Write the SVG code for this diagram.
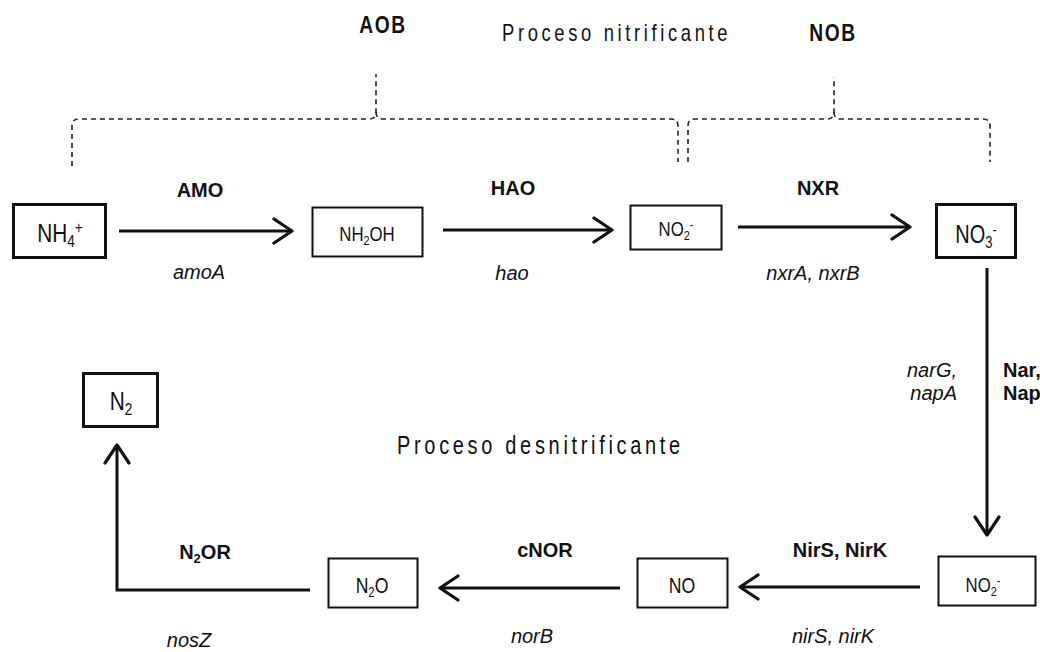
<svg xmlns="http://www.w3.org/2000/svg" width="1040" height="652" viewBox="0 0 1040 652">
<style>
  text { font-family: "Liberation Sans", Arial, sans-serif; fill: #111; }
  .box { fill: #fff; stroke: #111; stroke-width: 2; }
  .thick { stroke-width: 3; }
  .nt { font-size: 23px; text-anchor: middle; }
  .enz { font-size: 20px; font-weight: bold; text-anchor: middle; }
  .gene { font-size: 20px; font-style: italic; text-anchor: middle; }
  .title { font-size: 23px; }
  .title2 { font-size: 25px; }
  .grp { font-size: 24px; font-weight: bold; text-anchor: middle; letter-spacing: 2px; }
  .arrow { fill: none; stroke: #111; stroke-width: 3; marker-end: url(#head); }
  .brace { fill: none; stroke: #222; stroke-width: 1.6; stroke-dasharray: 5 4; }
  .sub { font-size: 65%; }
</style>
<defs>
  <marker id="head" markerUnits="userSpaceOnUse" viewBox="0 0 22 28" refX="20" refY="14" markerWidth="22" markerHeight="28" orient="auto">
    <path d="M2,2 L20,14 L2,26" fill="none" stroke="#111" stroke-width="3.2" stroke-linecap="round" stroke-linejoin="round"/>
  </marker>
</defs>

<!-- headers -->
<g id="labels-top">
  <text class="grp" transform="translate(383,33) scale(0.8,1)" x="0" y="0">AOB</text>
  <text class="title" transform="translate(502,41) scale(0.8,1)" x="0" y="0" textLength="282" lengthAdjust="spacing">Proceso nitrificante</text>
  <text class="grp" transform="translate(833,41) scale(0.8,1)" x="0" y="0">NOB</text>
  <text class="title2" transform="translate(397,454) scale(0.8,1)" x="0" y="0" textLength="354" lengthAdjust="spacing">Proceso desnitrificante</text>
</g>

<!-- braces -->
<g id="braces">
  <path class="brace" d="M72,166 V126 Q72,119 79,119 H369 Q376,119 376,112 V74"/>
  <path class="brace" d="M376,112 Q376,119 383,119 H671 Q678,119 678,126 V162"/>
  <path class="brace" d="M688,162 V126 Q688,119 695,119 H827 Q834,119 834,112 V77"/>
  <path class="brace" d="M834,112 Q834,119 841,119 H983 Q990,119 990,126 V162"/>
</g>

<!-- connectors -->
<g id="connectors">
  <path class="arrow" d="M119,231 H292"/>
  <path class="arrow" d="M443,230 H612"/>
  <path class="arrow" d="M738,227 H910"/>
  <path class="arrow" d="M987,268 V535"/>
  <path class="arrow" d="M920,587 H740"/>
  <path class="arrow" d="M620,588 H440"/>
  <path class="arrow" d="M310,590 H117 V445"/>
</g>

<!-- connector labels -->
<g id="connector-labels">
  <text class="enz" x="200" y="197">AMO</text>
  <text class="gene" x="199" y="279">amoA</text>
  <text class="enz" x="513" y="195">HAO</text>
  <text class="gene" x="512" y="280">hao</text>
  <text class="enz" x="818" y="195">NXR</text>
  <text class="gene" x="813" y="280">nxrA, nxrB</text>
  <text class="gene" x="957" y="377" style="text-anchor:end">narG,</text>
  <text class="gene" x="957" y="400" style="text-anchor:end">napA</text>
  <text class="enz" x="1003" y="377" style="text-anchor:start">Nar,</text>
  <text class="enz" x="1003" y="400" style="text-anchor:start">Nap</text>
  <text class="enz" x="840" y="557">NirS, NirK</text>
  <text class="gene" x="833" y="643">nirS, nirK</text>
  <text class="enz" x="545" y="557">cNOR</text>
  <text class="gene" x="532" y="643">norB</text>
  <text class="enz" x="205" y="559">N<tspan class="sub" dy="4">2</tspan><tspan dy="-4">OR</tspan></text>
  <text class="gene" x="189" y="647">nosZ</text>
</g>

<!-- nodes -->
<g id="node-nh4">
  <rect class="box thick" x="13.5" y="204.5" width="92" height="53"/>
  <text class="nt" transform="translate(60,242) scale(0.8,1)" style="font-size:26px">NH<tspan class="sub" dy="5">4</tspan><tspan class="sub" dy="-14">+</tspan></text>
</g>
<g id="node-nh2oh">
  <rect class="box" x="312.5" y="207.5" width="110" height="49"/>
  <text class="nt" transform="translate(367,241) scale(0.8,1)" style="font-size:21px">NH<tspan class="sub" dy="4">2</tspan><tspan dy="-4">OH</tspan></text>
</g>
<g id="node-no2-top">
  <rect class="box" x="630.5" y="205.5" width="91" height="44"/>
  <text class="nt" transform="translate(676,236) scale(0.8,1)" style="font-size:21px">NO<tspan class="sub" dy="4">2</tspan><tspan class="sub" dy="-11">-</tspan></text>
</g>
<g id="node-no3">
  <rect class="box thick" x="936.5" y="204.5" width="79" height="53"/>
  <text class="nt" transform="translate(976,243) scale(0.8,1)" style="font-size:25px">NO<tspan class="sub" dy="5">3</tspan><tspan class="sub" dy="-13">-</tspan></text>
</g>
<g id="node-no2-bottom">
  <rect class="box" x="938.5" y="556.5" width="97" height="49"/>
  <text class="nt" transform="translate(983,592) scale(0.8,1)" style="font-size:21px">NO<tspan class="sub" dy="4">2</tspan><tspan class="sub" dy="-11">-</tspan></text>
</g>
<g id="node-no">
  <rect class="box" x="637.5" y="558.5" width="90" height="49"/>
  <text class="nt" transform="translate(682,593) scale(0.8,1)" style="font-size:22px">NO</text>
</g>
<g id="node-n2o">
  <rect class="box" x="328.5" y="558.5" width="89" height="49"/>
  <text class="nt" transform="translate(372,593) scale(0.8,1)" style="font-size:22px">N<tspan class="sub" dy="4">2</tspan><tspan dy="-4">O</tspan></text>
</g>
<g id="node-n2">
  <rect class="box thick" x="83.5" y="373.5" width="74" height="53"/>
  <text class="nt" transform="translate(121,410) scale(0.8,1)" style="font-size:26px">N<tspan class="sub" dy="5">2</tspan></text>
</g>
</svg>
